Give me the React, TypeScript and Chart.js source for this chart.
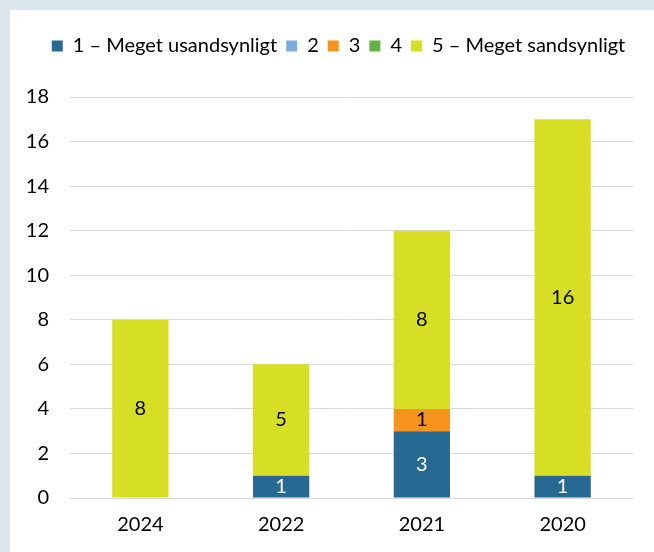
import React, { useEffect, useRef } from "react";
import { Chart, registerables } from "chart.js";

Chart.register(...registerables);

const categories = ["2024", "2022", "2021", "2020"];
const seriesNames = ["1 – Meget usandsynligt", "2", "3", "4", "5 – Meget sandsynligt"];
const s1 = [0, 1, 3, 1];
const s2 = [0, 0, 0, 0];
const s3 = [0, 0, 1, 0];
const s4 = [0, 0, 0, 0];
const s5 = [8, 5, 8, 16];
const seriesColors = ["#266a94", "#7aaddb", "#f7941e", "#62b246", "#d6df23"];
const labelColors = ["#ffffff", "#000000", "#000000", "#000000", "#000000"];
const yMin = 0;
const yMax = 18;
const yStep = 2;

const FONT = "Lato, 'Open Sans', sans-serif";
const FS = 20;

const legendSpacer = {
  id: "legendSpacer",
  beforeInit(chart: any) {
    const orig = chart.legend.fit;
    chart.legend.fit = function () {
      orig.bind(chart.legend)();
      this.height += 31;
    };
  },
  afterLayout(chart: any) {
    const lg = chart.legend;
    if (lg) {
      lg.left += 22;
      lg.right += 22;
    }
  },
};

const dataLabels = {
  id: "dataLabels",
  afterDatasetsDraw(chart: any) {
    const ctx = chart.ctx;
    ctx.save();
    ctx.font = `${FS}px ${FONT}`;
    ctx.textAlign = "center";
    ctx.textBaseline = "middle";
    chart.data.datasets.forEach((ds: any, di: number) => {
      const meta = chart.getDatasetMeta(di);
      meta.data.forEach((bar: any, i: number) => {
        const v = ds.data[i];
        if (!v) return;
        const { x, y, base } = bar.getProps(["x", "y", "base"], true);
        ctx.fillStyle = labelColors[di];
        ctx.fillText(String(v), x, (y + base) / 2);
      });
    });
    ctx.restore();
  },
};

export default function App() {
  const ref = useRef<HTMLCanvasElement>(null);
  useEffect(() => {
    if (!ref.current) return;
    const seriesData = [s1, s2, s3, s4, s5];
    const chart = new Chart(ref.current, {
      type: "bar",
      data: {
        labels: categories,
        datasets: seriesNames.map((name, i) => ({
          label: name,
          data: seriesData[i],
          backgroundColor: seriesColors[i],
          borderWidth: 0,
          categoryPercentage: 1,
          barPercentage: 0.4,
        })),
      },
      options: {
        animation: false,
        responsive: false,
        maintainAspectRatio: false,
        layout: { padding: { top: 27, left: 0, right: 21, bottom: 0 } },
        plugins: {
          legend: {
            position: "top",
            align: "center",
            labels: {
              boxWidth: 11,
              boxHeight: 11,
              padding: 9,
              color: "#000000",
              font: { family: FONT, size: FS },
            },
          },
          tooltip: { enabled: false },
        },
        scales: {
          x: {
            stacked: true,
            grid: { display: false, drawTicks: false },
            border: { display: false },
            ticks: { color: "#000000", padding: 15, font: { family: FONT, size: FS } },
          },
          y: {
            stacked: true,
            min: yMin,
            max: yMax,
            grid: { color: "#d9d9d9", lineWidth: 1, drawTicks: false },
            border: { display: false },
            ticks: {
              stepSize: yStep,
              color: "#000000",
              padding: 21,
              font: { family: FONT, size: FS },
            },
            afterFit(scale: any) {
              scale.width = 70;
            },
          },
        },
      },
      plugins: [legendSpacer, dataLabels],
    });
    return () => chart.destroy();
  }, []);

  return (
    <div style={{ position: "fixed", left: 0, top: 0, width: 654, height: 552, background: "#dce6ed", overflow: "hidden" }}>
      <div style={{ position: "absolute", left: 10, top: 10, width: 700, height: 600, background: "#ffffff" }} />
      <canvas ref={ref} width={654} height={552} style={{ position: "absolute", left: 0, top: 0 }} />
    </div>
  );
}
